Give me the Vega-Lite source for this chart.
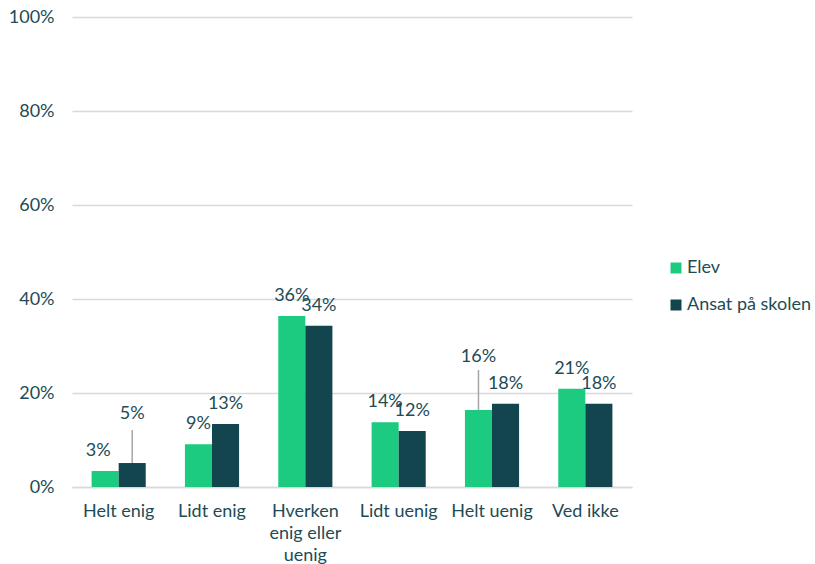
{
  "$schema": "https://vega.github.io/schema/vega-lite/v6.json",
  "width": 560,
  "height": 470,
  "autosize": {"type": "none"},
  "padding": {"left": 72, "top": 17, "right": 183, "bottom": 77},
  "background": "white",
  "config": {
    "view": {"stroke": null},
    "font": "Lato",
    "text": {"font": "Lato"}
  },
  "data": {
    "values": [
      {"cat": "Helt enig", "series": "Elev", "value": 0.034},
      {"cat": "Helt enig", "series": "Ansat på skolen", "value": 0.051},
      {"cat": "Lidt enig", "series": "Elev", "value": 0.091},
      {"cat": "Lidt enig", "series": "Ansat på skolen", "value": 0.134},
      {"cat": "Hverken enig eller uenig", "series": "Elev", "value": 0.364},
      {"cat": "Hverken enig eller uenig", "series": "Ansat på skolen", "value": 0.343},
      {"cat": "Lidt uenig", "series": "Elev", "value": 0.138},
      {"cat": "Lidt uenig", "series": "Ansat på skolen", "value": 0.119},
      {"cat": "Helt uenig", "series": "Elev", "value": 0.164},
      {"cat": "Helt uenig", "series": "Ansat på skolen", "value": 0.177},
      {"cat": "Ved ikke", "series": "Elev", "value": 0.209},
      {"cat": "Ved ikke", "series": "Ansat på skolen", "value": 0.177}
    ]
  },
  "encoding": {
    "x": {
      "field": "cat",
      "type": "nominal",
      "sort": null,
      "title": null,
      "scale": {"paddingInner": 0.42, "paddingOuter": 0.21},
      "axis": {
        "labelAngle": 0,
        "labelFont": "Lato",
        "labelFontSize": 18,
        "labelColor": "#1d4b56",
        "labelPadding": 15,
        "labelLineHeight": 22,
        "ticks": false,
        "domainColor": "#d9d9d9",
        "domainWidth": 1.5,
        "labelExpr": "datum.value == 'Hverken enig eller uenig' ? ['Hverken', 'enig eller', 'uenig'] : datum.value"
      }
    },
    "xOffset": {
      "field": "series",
      "type": "nominal",
      "sort": ["Elev", "Ansat på skolen"],
      "scale": {"paddingInner": 0, "paddingOuter": 0}
    },
    "y": {
      "field": "value",
      "type": "quantitative",
      "title": null,
      "scale": {"domain": [0, 1]},
      "axis": {
        "format": ".0%",
        "values": [0, 0.2, 0.4, 0.6, 0.8, 1],
        "labelFont": "Lato",
        "labelFontSize": 18,
        "labelColor": "#1d4b56",
        "labelPadding": 18,
        "ticks": false,
        "domain": false,
        "gridColor": "#d9d9d9",
        "gridWidth": 1.5
      }
    }
  },
  "layer": [
    {
      "mark": {"type": "bar"},
      "encoding": {
        "color": {
          "field": "series",
          "type": "nominal",
          "scale": {"domain": ["Elev", "Ansat på skolen"], "range": ["#1dcb80", "#13454f"]},
          "legend": {
            "title": null,
            "orient": "none",
            "legendX": 595,
            "legendY": 242,
            "symbolType": "square",
            "symbolSize": 121,
            "rowPadding": 19,
            "labelFont": "Lato",
            "labelFontSize": 18,
            "labelColor": "#1d4b56",
            "labelOffset": 2
          }
        }
      }
    },
    {
      "transform": [{"filter": "!((datum.cat == 'Helt enig') || (datum.cat == 'Helt uenig' && datum.series == 'Elev'))"}],
      "mark": {"type": "text", "baseline": "alphabetic", "dy": -15, "fontSize": 18, "font": "Lato", "color": "#1d4b56"},
      "encoding": {
        "text": {"field": "value", "type": "quantitative", "format": ".0%"}
      }
    },
    {
      "transform": [{"filter": "datum.cat == 'Helt enig' && datum.series == 'Elev'"}],
      "mark": {"type": "text", "baseline": "alphabetic", "dy": -15, "dx": -7, "fontSize": 18, "font": "Lato", "color": "#1d4b56"},
      "encoding": {
        "text": {"field": "value", "type": "quantitative", "format": ".0%"}
      }
    },
    {
      "transform": [{"filter": "datum.cat == 'Helt enig' && datum.series == 'Ansat på skolen'"}],
      "mark": {"type": "rule", "color": "#a6a6a6", "strokeWidth": 1.5, "y2Offset": -33},
      "encoding": {"y2": {"field": "value"}}
    },
    {
      "transform": [{"filter": "datum.cat == 'Helt enig' && datum.series == 'Ansat på skolen'"}],
      "mark": {"type": "text", "baseline": "alphabetic", "dy": -44, "fontSize": 18, "font": "Lato", "color": "#1d4b56"},
      "encoding": {
        "text": {"field": "value", "type": "quantitative", "format": ".0%"}
      }
    },
    {
      "transform": [{"filter": "datum.cat == 'Helt uenig' && datum.series == 'Elev'"}],
      "mark": {"type": "rule", "color": "#a6a6a6", "strokeWidth": 1.5, "y2Offset": -40},
      "encoding": {"y2": {"field": "value"}}
    },
    {
      "transform": [{"filter": "datum.cat == 'Helt uenig' && datum.series == 'Elev'"}],
      "mark": {"type": "text", "baseline": "alphabetic", "dy": -48, "fontSize": 18, "font": "Lato", "color": "#1d4b56"},
      "encoding": {
        "text": {"field": "value", "type": "quantitative", "format": ".0%"}
      }
    }
  ]
}
